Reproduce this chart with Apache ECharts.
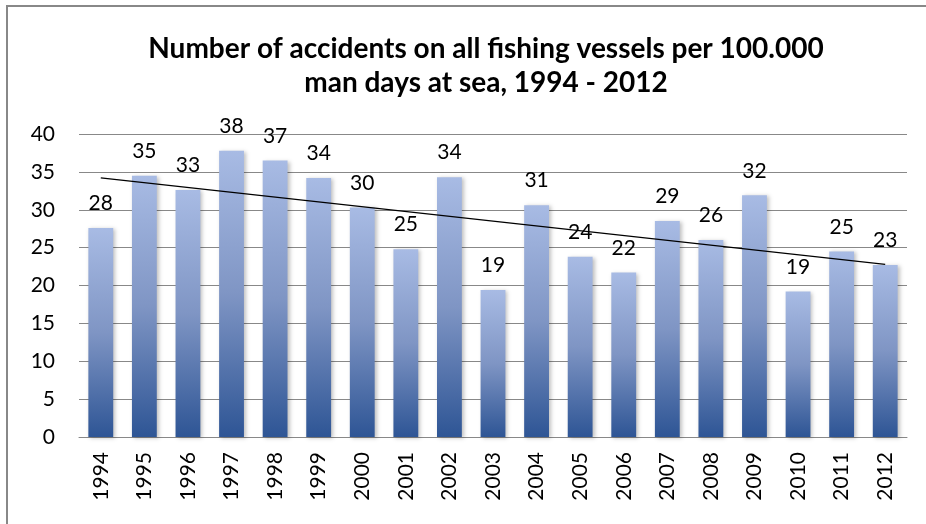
<!DOCTYPE html>
<html>
<head>
<meta charset="utf-8">
<script src="https://cdn.jsdelivr.net/npm/echarts@6/dist/echarts.min.js"></script>
<style>
  html, body { margin: 0; padding: 0; background: #fff; }
  #chart { width: 926px; height: 524px; }
</style>
</head>
<body>
<div id="chart"></div>
<script>
const years = ['1994', '1995', '1996', '1997', '1998', '1999', '2000', '2001', '2002', '2003',
  '2004', '2005', '2006', '2007', '2008', '2009', '2010', '2011', '2012']
const accidents = [27.6, 34.5, 32.6, 37.8, 36.5, 34.2, 30.3, 24.8, 34.3, 19.4,
  30.6, 23.8, 21.7, 28.5, 26.0, 31.9, 19.2, 24.5, 22.7]
// trend line end points
const trend = [34.2, null, null, null, null, null, null, null, null, null,
  null, null, null, null, null, null, null, null, 22.8]
const yTicks = [0, 5, 10, 15, 20, 25, 30, 35, 40]

const font = 'Lato, "Open Sans", sans-serif'
const chart = echarts.init(document.getElementById('chart'))

chart.setOption({
  animation: false,
  title: {
    text: 'Number of accidents on all fishing vessels per 100.000\nman days at sea, 1994 - 2012',
    left: 481,
    textAlign: 'center',
    top: 27,
    textStyle: {
      fontFamily: font,
      fontWeight: 'bold',
      fontSize: 28,
      lineHeight: 34,
      color: '#000'
    }
  },
  graphic: [{
    type: 'rect',
    shape: { x: 7, y: 6, width: 1000, height: 1000 },
    style: { fill: 'none', stroke: '#888', lineWidth: 2 },
    silent: true
  }],
  grid: { left: 79, right: 19, top: 134, bottom: 87 },
  xAxis: {
    type: 'category',
    data: years,
    axisLine: { lineStyle: { color: '#888' } },
    axisTick: { show: false },
    axisLabel: {
      rotate: 90,
      interval: 0,
      margin: 15,
      fontFamily: font,
      fontSize: 21,
      color: '#000'
    }
  },
  yAxis: {
    type: 'value',
    min: yTicks[0],
    max: yTicks[yTicks.length - 1],
    interval: 5,
    axisLine: { show: false },
    axisTick: { show: false },
    splitLine: { lineStyle: { color: '#888' } },
    axisLabel: {
      margin: 24,
      fontFamily: font,
      fontSize: 21,
      color: '#000'
    }
  },
  series: [{
    type: 'bar',
    data: accidents,
    barWidth: '57%',
    itemStyle: {
      color: new echarts.graphic.LinearGradient(0, 0, 0, 1, [
        { offset: 0, color: '#a8bbe4' },
        { offset: 0.5, color: '#7f95c4' },
        { offset: 1, color: '#2e5595' }
      ]),
      shadowColor: 'rgba(0,0,0,0.25)',
      shadowBlur: 4,
      shadowOffsetX: 2,
      shadowOffsetY: 1
    },
    label: {
      show: true,
      position: 'top',
      distance: 14,
      fontFamily: font,
      fontSize: 21,
      color: '#000',
      formatter: p => Math.round(p.value)
    }
  }, {
    type: 'line',
    data: trend,
    connectNulls: true,
    symbol: 'none',
    lineStyle: { color: '#000', width: 1.2 },
    z: 5
  }]
})
</script>
</body>
</html>
